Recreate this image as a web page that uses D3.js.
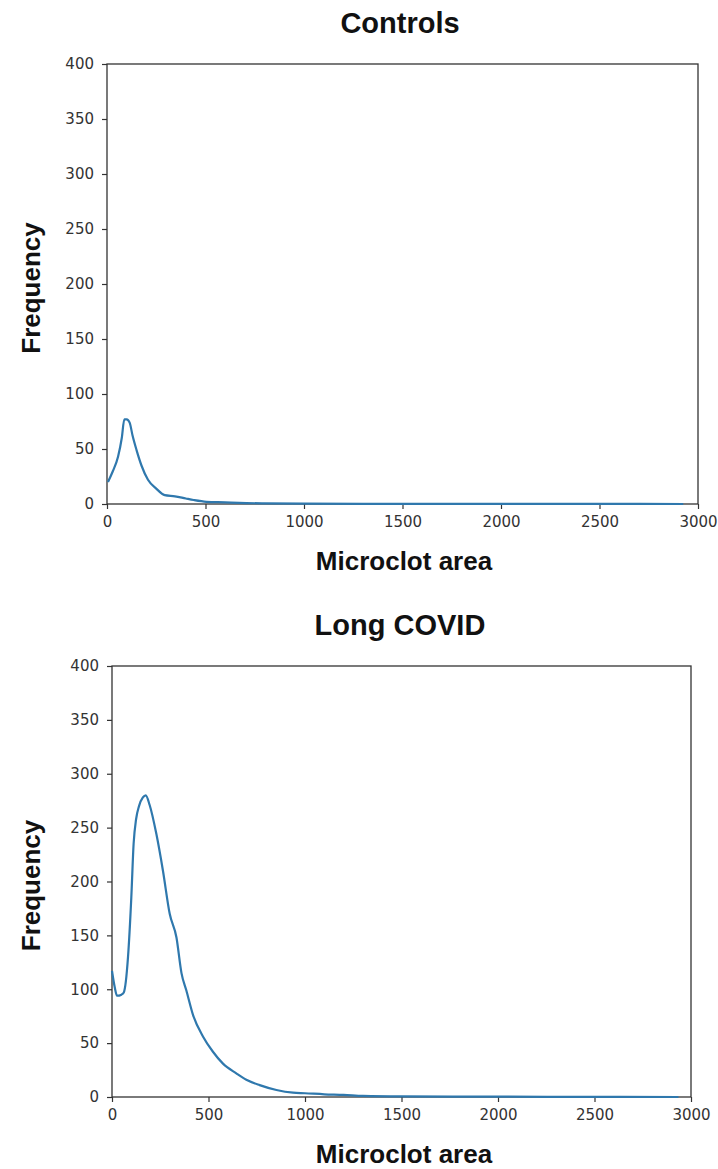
<!DOCTYPE html>
<html>
<head>
<meta charset="utf-8">
<script src="https://cdn.jsdelivr.net/npm/d3@7"></script>
<style>
  body { margin: 0; background: #fff; }
  .tick text { font-family: "DejaVu Sans", sans-serif; font-size: 15px; fill: #333; }
  .lbl { font-family: "Liberation Sans", Arial, sans-serif; font-weight: bold; fill: #111; }
</style>
</head>
<body>
<div id="chart"></div>
<script>
// frequency of microclot areas
var xTicks = [0, 500, 1000, 1500, 2000, 2500, 3000],
    yTicks = [0, 50, 100, 150, 200, 250, 300, 350, 400];

var controlsArea = [5, 30, 56, 75, 88, 100, 115, 130, 150, 175, 208, 250, 293, 345, 400, 440,
                    505, 600, 670, 800, 1000, 1300, 1600, 2000, 2500, 2925],
    controlsFreq = [20, 30, 43, 60, 77, 77, 74, 62, 49, 35, 22, 14, 8, 7, 5, 3.6,
                    2, 1.5, 1, 0.6, 0.4, 0.2, 0.1, 0.1, 0.05, 0];

var longArea = [0, 14, 26, 49, 61, 83, 100, 112, 125, 140, 160, 175, 195, 230, 264, 299, 334,
                360, 385, 420, 472, 523, 575, 644, 696, 765, 852, 938, 1000, 1100, 1200, 1300,
                1500, 2000, 2500, 2935],
    longFreq = [117, 102, 94, 95, 97, 130, 185, 235, 258, 270, 278, 280, 271, 244, 210, 170, 148,
                115, 99, 76, 56, 42, 31, 22, 16, 11, 6.5, 4, 3.5, 2.5, 2, 1, 0.5, 0.3, 0.1, 0];

var svg = d3.select("#chart").append("svg")
    .attr("width", 718)
    .attr("height", 1169);

function drawPanel(p) {
  var x = d3.scaleLinear().domain([0, 3000]).range([p.left, p.right]),
      y = d3.scaleLinear().domain([0, 400]).range([p.bottom, p.top]);

  var g = svg.append("g");

  // frame
  g.append("rect")
    .attr("x", p.left).attr("y", p.top)
    .attr("width", p.right - p.left).attr("height", p.bottom - p.top)
    .attr("fill", "none").attr("stroke", "#333").attr("stroke-width", 1.3);

  var xAxis = g.append("g")
    .attr("transform", "translate(0," + p.bottom + ")")
    .call(d3.axisBottom(x).tickValues(xTicks).tickSize(5).tickPadding(7).tickFormat(d3.format("d")));
  var yAxis = g.append("g")
    .attr("transform", "translate(" + p.left + ",0)")
    .call(d3.axisLeft(y).tickValues(yTicks).tickSize(5).tickPadding(8).tickFormat(d3.format("d")));
  [xAxis, yAxis].forEach(function(a){
    a.select(".domain").remove();
    a.selectAll(".tick line").attr("stroke", "#333").attr("stroke-width", 1.2);
  });

  var line = d3.line()
    .x(function(d, i){ return x(p.area[i]); })
    .y(function(d){ return y(d); })
    .curve(d3.curveMonotoneX);

  g.append("path")
    .attr("d", line(p.freq))
    .attr("fill", "none")
    .attr("stroke", "#2f78ad")
    .attr("stroke-width", 2.2)
    .attr("stroke-linejoin", "round");

  g.append("text").attr("class", "lbl")
    .attr("x", 400).attr("y", p.top - 31)
    .attr("text-anchor", "middle").attr("font-size", 29)
    .text(p.title);

  g.append("text").attr("class", "lbl")
    .attr("x", 404).attr("y", p.bottom + 66)
    .attr("text-anchor", "middle").attr("font-size", 26)
    .text("Microclot area");

  g.append("text").attr("class", "lbl")
    .attr("transform", "translate(40," + ((p.top + p.bottom) / 2 + 4) + ") rotate(-90)")
    .attr("text-anchor", "middle").attr("font-size", 26)
    .text("Frequency");
}

drawPanel({ title: "Controls", area: controlsArea, freq: controlsFreq,
            left: 107, right: 698, top: 64, bottom: 504 });
drawPanel({ title: "Long COVID", area: longArea, freq: longFreq,
            left: 112, right: 691, top: 666, bottom: 1097 });
</script>
</body>
</html>
